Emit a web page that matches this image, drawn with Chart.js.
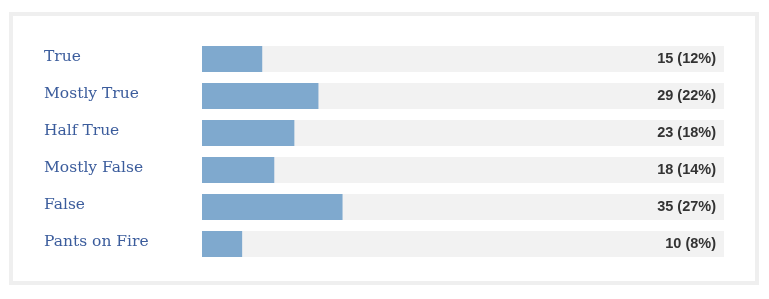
<!DOCTYPE html>
<html><head><meta charset="utf-8">
<script src="https://cdn.jsdelivr.net/npm/chart.js@4/dist/chart.umd.min.js"></script>
<style>
html,body{margin:0;padding:0;background:#fff;width:769px;height:299px;overflow:hidden}
#frame{position:absolute;left:9px;top:12px;width:742px;height:265px;border:4px solid #efefef;background:#fff}
#wrap{position:absolute;left:0;top:0;width:742px;height:265px}
</style></head><body>
<div id="frame"><div id="wrap"><canvas id="c"></canvas></div></div>
<script>
const categories = ["True","Mostly True","Half True","Mostly False","False","Pants on Fire"];
const counts = [15,29,23,18,35,10];
const percentLabels = ["12%","22%","18%","14%","27%","8%"];
const total = counts.reduce((a,b)=>a+b,0);
const trackValues = categories.map(()=>total);

const valueLabels = {
  id:'valueLabels',
  afterDatasetsDraw(chart){
    const ctx = chart.ctx, meta = chart.getDatasetMeta(0);
    ctx.save();
    ctx.font = 'bold 14.5px "Liberation Sans", Arial, sans-serif';
    ctx.fillStyle = '#333333';
    ctx.textAlign = 'right';
    ctx.textBaseline = 'middle';
    meta.data.forEach((bar,i)=>{
      ctx.fillText(counts[i] + ' (' + percentLabels[i] + ')', chart.chartArea.right - 8, bar.y);
    });
    ctx.restore();
  }
};

new Chart(document.getElementById('c'), {
  type:'bar',
  data:{
    labels:categories,
    datasets:[
      {data:counts, backgroundColor:'#7fa9ce', grouped:false, order:0,
       barPercentage:26/37, categoryPercentage:1},
      {data:trackValues, backgroundColor:'#f2f2f2', grouped:false, order:1,
       barPercentage:26/37, categoryPercentage:1}
    ]
  },
  options:{
    indexAxis:'y',
    responsive:true, maintainAspectRatio:false, animation:false,
    layout:{padding:{left:31,right:31,top:24.5,bottom:18.5}},
    plugins:{legend:{display:false},tooltip:{enabled:false}},
    scales:{
      x:{display:false,min:0,max:total},
      y:{
        grid:{display:false},
        border:{display:false},
        ticks:{crossAlign:'far',padding:0,labelOffset:-2.5,color:'#3b5c9c',
          font:{family:'"DejaVu Serif", Georgia, serif',size:15.5}},
        afterFit(scale){ scale.width = 158; }
      }
    }
  },
  plugins:[valueLabels]
});
</script></body></html>
